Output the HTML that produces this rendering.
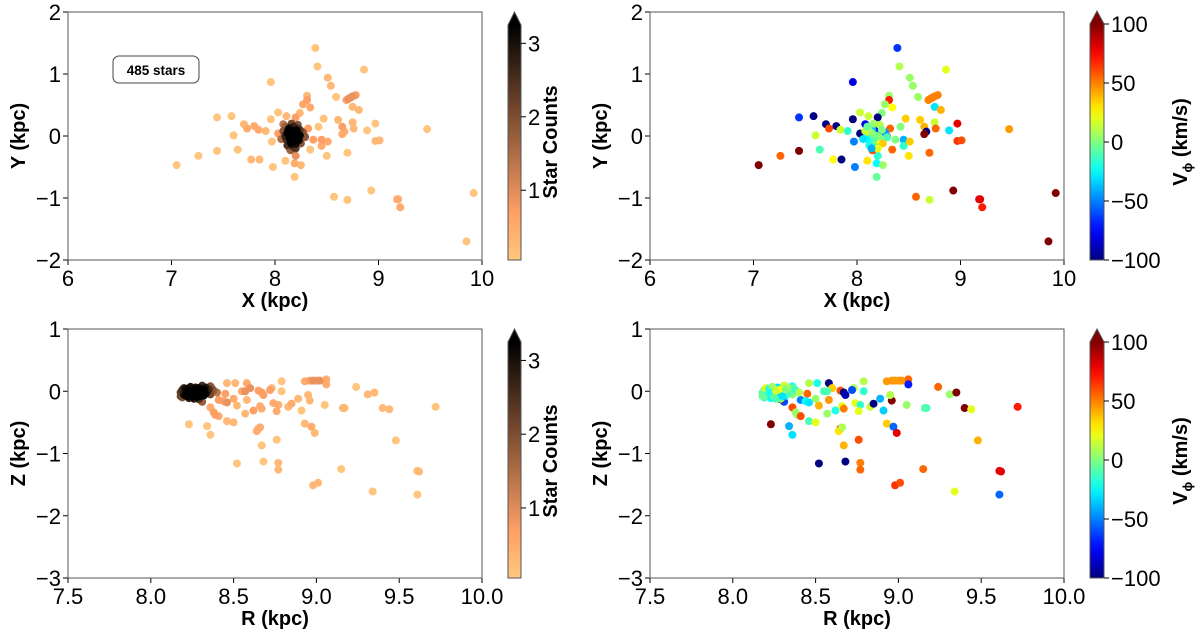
<!DOCTYPE html>
<html><head><meta charset="utf-8">
<style>
html,body{margin:0;padding:0;background:#fff;}
svg{display:block;font-family:"Liberation Sans",sans-serif;}
.tick{font-size:22px;fill:#000;}
.lab{font-size:20px;font-weight:bold;fill:#000;}
</style></head>
<body>
<svg id="fig" width="1200" height="634" viewBox="0 0 1200 634"></svg>
<script>
// ---- Top panels (X, Y, V_phi) ----
const topX = [8.39,8.41,8.51,8.54,8.86,7.96,8.59,8.69,8.71,8.73,8.75,8.78,8.31,8.31,8.27,8.34,8.75,8.81,8.24,8.03,8.11,8.20,7.96,7.44,7.58,7.70,7.80,7.73,7.84,7.91,8.08,8.03,8.47,8.42,8.61,8.65,8.75,8.76,8.67,8.65,8.97,8.89,9.47,8.97,9.01,7.60,7.64,7.44,7.26,7.05,7.77,7.85,7.98,7.97,8.10,8.19,8.25,8.19,8.20,8.15,8.34,8.37,8.45,8.45,8.50,8.51,8.70,8.29,8.32,8.93,8.57,8.70,9.18,9.19,9.21,9.92,9.85,
8.10,8.12,8.14,8.16,8.18,8.20,8.22,8.24,8.13,8.15,8.17,8.19,8.21,8.23,8.11,8.14,8.16,8.18,8.20,8.22,8.15,8.17,8.19,8.12,8.25,8.27,8.08,8.06,8.29,8.16,8.18,8.20,8.14,8.22,8.10,8.24];
const topY = [1.42,1.12,0.94,0.81,1.07,0.87,0.63,0.58,0.60,0.62,0.64,0.66,0.65,0.58,0.51,0.46,0.47,0.42,0.37,0.38,0.32,0.30,0.27,0.30,0.32,0.19,0.16,0.12,0.10,0.08,0.19,0.04,0.28,0.15,0.26,0.15,0.22,0.12,0.07,0.03,0.20,0.09,0.11,-0.08,-0.07,0.01,-0.22,-0.24,-0.32,-0.47,-0.38,-0.38,-0.50,-0.09,-0.40,-0.44,-0.47,-0.66,-0.32,-0.23,-0.22,-0.06,-0.06,-0.16,-0.32,-0.09,-0.27,-0.01,0.12,-0.88,-0.98,-1.03,-1.02,-1.02,-1.15,-0.92,-1.70,
0.00,0.05,-0.03,0.02,-0.01,0.04,-0.05,0.01,0.10,-0.10,0.08,-0.08,0.09,-0.07,-0.06,0.13,-0.13,0.15,-0.12,0.12,0.03,-0.04,0.00,-0.15,-0.12,0.06,0.08,-0.05,-0.02,0.20,-0.18,-0.20,-0.20,0.18,0.15,0.10];
const topV = [-65,10,5,5,20,-80,5,50,50,50,50,50,5,70,5,25,-30,40,0,15,15,-100,-100,-65,-100,-100,-100,60,15,-15,-80,-100,35,0,35,40,15,55,-100,100,80,-30,45,65,60,15,-10,100,55,100,25,-100,-50,-50,30,-25,5,-5,-15,60,55,0,-40,-15,30,35,55,100,55,100,55,15,80,80,70,100,100,
-20,10,-40,0,-10,30,-60,5,-30,15,-15,20,-50,0,-25,10,-5,-35,25,-70,5,-10,0,-20,35,-45,15,-30,-10,5,-15,20,-40,10,-5,0];

// ---- Bottom panels (R, Z, V_phi) ----
const botR = [8.58,8.46,8.51,8.60,8.55,8.57,8.65,8.67,8.68,8.73,8.72,8.79,8.79,8.93,8.96,8.98,9.00,9.02,9.06,9.06,9.24,9.31,9.35,9.40,9.44,9.72,8.45,8.41,8.44,8.46,8.50,8.52,8.58,8.62,8.57,8.66,8.67,8.74,8.77,8.76,8.83,8.85,8.89,8.91,8.96,8.95,9.05,9.16,9.17,8.36,8.38,8.39,8.41,8.46,8.50,8.23,8.34,8.36,8.65,8.64,8.66,8.67,8.76,8.93,8.97,8.99,9.48,8.52,8.68,8.77,8.77,9.15,8.98,9.01,9.34,9.61,9.62,9.61,8.31,8.29,8.36,
8.18,8.19,8.20,8.21,8.22,8.23,8.24,8.25,8.26,8.27,8.28,8.29,8.30,8.31,8.32,8.33,8.34,8.35,8.36,8.37,8.19,8.21,8.23,8.25,8.27,8.29,8.31,8.33,8.20,8.22,8.24,8.26,8.28,8.30,8.32,8.38,8.40,8.18,8.22,8.26];
const botZ = [0.13,0.13,0.13,0.05,0.00,0.00,0.01,-0.02,-0.06,0.05,0.02,0.16,0.00,0.16,0.17,0.17,0.17,0.17,0.19,0.11,0.07,-0.05,-0.02,-0.27,-0.29,-0.25,-0.04,-0.14,-0.16,-0.18,-0.12,-0.23,-0.14,-0.31,-0.36,-0.24,-0.28,-0.19,-0.22,-0.32,-0.25,-0.20,-0.12,-0.31,-0.15,-0.06,-0.22,-0.27,-0.27,-0.26,-0.34,-0.38,-0.40,-0.48,-0.50,-0.53,-0.56,-0.70,-0.60,-0.64,-0.58,-0.87,-0.78,-0.52,-0.57,-0.67,-0.79,-1.16,-1.13,-1.15,-1.26,-1.25,-1.51,-1.47,-1.61,-1.28,-1.29,-1.66,-0.17,-0.13,0.08,
-0.02,0.02,-0.05,0.03,-0.08,0.01,-0.04,0.04,-0.06,0.00,-0.09,0.05,-0.03,0.02,-0.07,0.06,-0.01,0.03,-0.05,0.04,-0.10,-0.07,-0.11,-0.09,0.06,-0.12,0.09,-0.04,0.05,0.04,0.07,-0.12,0.02,-0.08,0.03,0.01,-0.02,-0.08,-0.02,0.01];
const botV = [-100,10,-20,35,-10,-10,60,-100,-90,10,-60,10,-15,45,45,45,45,45,55,-70,55,5,100,100,20,70,55,-50,-25,-30,5,40,45,-20,5,20,50,20,-15,20,15,-100,-40,-35,100,10,5,-10,-10,60,5,5,60,-10,20,100,-40,-30,70,30,10,40,60,35,-55,80,40,-100,-100,50,55,55,65,60,20,80,80,-55,-60,100,-20,
-10,0,-20,10,-30,5,-15,20,-25,0,-40,10,-10,30,-20,5,-35,15,0,-5,-15,10,-25,5,-30,0,15,-10,20,-20,5,-10,25,-30,0,-15,10,-5,-20,15];

const topXTicks = [6,7,8,9,10];
const topYTicks = [-2,-1,0,1,2];
const botXTicks = [7.5,8.0,8.5,9.0,9.5,10.0];
const botYTicks = [-3,-2,-1,0,1];
const countTicks = [1,2,3];
const vTicks = [-100,-50,0,50,100];

const NS = "http://www.w3.org/2000/svg";
const fig = document.getElementById('fig');
function mk(tag, attrs, parent){
  const e = document.createElementNS(NS, tag);
  for (const k in attrs) e.setAttribute(k, attrs[k]);
  (parent||fig).appendChild(e);
  return e;
}
function fmt(v, dec){ const s = dec ? Math.abs(v).toFixed(1) : String(Math.abs(v)); return (v<0?'\u2212':'')+s; }

function jet(v){
  const f = x => Math.max(0, Math.min(1, x));
  const r = f(1.5 - Math.abs(4*v - 3)), g = f(1.5 - Math.abs(4*v - 2)), b = f(1.5 - Math.abs(4*v - 1));
  return `rgb(${Math.round(r*255)},${Math.round(g*255)},${Math.round(b*255)})`;
}
function copperR(t){
  const x = 1 - Math.max(0, Math.min(1, t));
  const r = Math.min(1, 1.25*x), g = 0.7812*x, b = 0.4975*x;
  return `rgb(${Math.round(r*255)},${Math.round(g*255)},${Math.round(b*255)})`;
}

function makeAxes(o){
  const sx = v => o.x0 + (v - o.xmin)/(o.xmax - o.xmin)*(o.x1 - o.x0);
  const sy = v => o.y1 - (v - o.ymin)/(o.ymax - o.ymin)*(o.y1 - o.y0);
  const g = mk('g', {});
  
  
  o.xt.forEach(v => {
    const x = sx(v);
    const t = mk('line', {x1:x, x2:x, y1:o.y1, y2:o.y1+5, stroke:'#000', 'stroke-width':1}, g);
    
    
    const l = mk('text', {x:x, y:o.y1+26, 'text-anchor':'middle', class:'tick'}, g);
    l.textContent = fmt(v, o.xdec);
    
    
  });
  o.yt.forEach(v => {
    const y = sy(v);
    const t = mk('line', {x1:o.x0-5, x2:o.x0, y1:y, y2:y, stroke:'#000', 'stroke-width':1}, g);
    
    
    const l = mk('text', {x:o.x0-7, y:y+8, 'text-anchor':'end', class:'tick'}, g);
    l.textContent = fmt(v, false);
    
    
  });
  const xl = mk('text', {x:(o.x0+o.x1)/2, y:o.y1+47, 'text-anchor':'middle', class:'lab'}, g);
  xl.textContent = o.xlab;
  
  
  const yl = mk('text', {x:0, y:0, 'text-anchor':'middle', class:'lab', transform:`translate(${o.x0-43},${(o.y0+o.y1)/2}) rotate(-90)`}, g);
  yl.textContent = o.ylab;
  
  
  return {sx, sy, g};
}
function frame(o, g){
  const f = mk('rect', {x:o.x0, y:o.y0, width:o.x1-o.x0, height:o.y1-o.y0, fill:'none', stroke:'#555', 'stroke-width':1}, g);
  
  
}
function densityCounts(xs, ys, sx, sy){
  const px = xs.map(sx), py = ys.map(sy);
  return px.map((x,i) => {
    let n = 0;
    for (let j=0;j<px.length;j++){ if (j!==i && Math.hypot(px[j]-x, py[j]-py[i]) < 9) n++; }
    return Math.min(3.3, 0.1 + 0.2*n);
  });
}
function scatter(xs, ys, colors, sx, sy, g, order){
  order.forEach(i => {
    const c = mk('circle', {cx:sx(xs[i]), cy:sy(ys[i]), r:4, fill:colors[i]}, g);
    
    
  });
}
function colorbar(o){
  const g = mk('g', {});
  
  
  const id = o.name + '-grad';
  const grad = mk('linearGradient', {id:id, x1:0, y1:1, x2:0, y2:0}, g);
  for (let k=0;k<=20;k++){
    mk('stop', {offset:(k/20), 'stop-color':o.cmap(k/20)}, grad);
  }
  const r = mk('rect', {x:o.x, y:o.top, width:o.w, height:o.bot-o.top, fill:`url(#${id})`}, g);
  
  
  const tri = mk('polygon', {points:`${o.x},${o.top} ${o.x+o.w},${o.top} ${o.x+o.w/2},${o.tip}`, fill:o.cmap(1)}, g);
  
  
  mk('polygon', {points:`${o.x},${o.top} ${o.x+o.w/2},${o.tip} ${o.x+o.w},${o.top} ${o.x+o.w},${o.bot} ${o.x},${o.bot}`, fill:'none', stroke:'#555', 'stroke-width':1}, g);
  const sc = v => o.bot - (v - o.vmin)/(o.vmax - o.vmin)*(o.bot - o.top);
  o.ticks.forEach(v => {
    const y = sc(v);
    const t = mk('line', {x1:o.x+o.w, x2:o.x+o.w+5, y1:y, y2:y, stroke:'#000'}, g);
    
    
    const l = mk('text', {x:o.x+o.w+7, y:y+8, class:'tick'}, g);
    l.textContent = fmt(v, false);
    
    
  });
  return g;
}

const TL = {name:'xy-counts-panel', x0:68, x1:482, y0:12, y1:260, xmin:6, xmax:10, ymin:-2, ymax:2, xt:topXTicks, yt:topYTicks, xlab:'X (kpc)', ylab:'Y (kpc)', xdec:false};
const TR = {name:'xy-vphi-panel', x0:650, x1:1064, y0:12, y1:260, xmin:6, xmax:10, ymin:-2, ymax:2, xt:topXTicks, yt:topYTicks, xlab:'X (kpc)', ylab:'Y (kpc)', xdec:false};
const BL = {name:'rz-counts-panel', x0:68, x1:482, y0:329, y1:578, xmin:7.5, xmax:10, ymin:-3, ymax:1, xt:botXTicks, yt:botYTicks, xlab:'R (kpc)', ylab:'Z (kpc)', xdec:true};
const BR = {name:'rz-vphi-panel', x0:650, x1:1064, y0:329, y1:578, xmin:7.5, xmax:10, ymin:-3, ymax:1, xt:botXTicks, yt:botYTicks, xlab:'R (kpc)', ylab:'Z (kpc)', xdec:true};
const CMIN = 0.05, CMAX = 3.25;

{
  const a = makeAxes(TL);
  const cnt = densityCounts(topX, topY, a.sx, a.sy);
  const cols = cnt.map(c => copperR((c - CMIN)/(CMAX - CMIN)));
  const order = cnt.map((c,i)=>i).sort((i,j)=>cnt[i]-cnt[j]);
  scatter(topX, topY, cols, a.sx, a.sy, a.g, order);
  frame(TL, a.g);
  const box = mk('rect', {x:113, y:56, width:86, height:27, rx:6, fill:'#fff', stroke:'#444', 'stroke-width':1}, a.g);
  
  
  const bt = mk('text', {x:156, y:75, 'text-anchor':'middle', 'font-size':'13.5', 'font-weight':'bold'}, a.g);
  bt.textContent = '485 stars';
  
  
}
{
  const a = makeAxes(TR);
  const cols = topV.map(v => jet((v + 100)/200));
  scatter(topX, topY, cols, a.sx, a.sy, a.g, topV.map((v,i)=>i));
  frame(TR, a.g);
}
{
  const a = makeAxes(BL);
  const cnt = densityCounts(botR, botZ, a.sx, a.sy);
  const cols = cnt.map(c => copperR((c - CMIN)/(CMAX - CMIN)));
  const order = cnt.map((c,i)=>i).sort((i,j)=>cnt[i]-cnt[j]);
  scatter(botR, botZ, cols, a.sx, a.sy, a.g, order);
  frame(BL, a.g);
}
{
  const a = makeAxes(BR);
  const cols = botV.map(v => jet((v + 100)/200));
  scatter(botR, botZ, cols, a.sx, a.sy, a.g, botV.map((v,i)=>i));
  frame(BR, a.g);
}

colorbar({name:'counts-colorbar-top', x:508, w:13, tip:12, top:25, bot:260, vmin:CMIN, vmax:CMAX, ticks:countTicks, cmap:copperR});
colorbar({name:'vphi-colorbar-top', x:1090, w:14, tip:11, top:24, bot:260, vmin:-100, vmax:100, ticks:vTicks, cmap:jet});
colorbar({name:'counts-colorbar-bottom', x:508, w:13, tip:329, top:342, bot:578, vmin:CMIN, vmax:CMAX, ticks:countTicks, cmap:copperR});
colorbar({name:'vphi-colorbar-bottom', x:1090, w:14, tip:329, top:342, bot:578, vmin:-100, vmax:100, ticks:vTicks, cmap:jet});

[[557,142],[557,461]].forEach(p => {
  const t = mk('text', {x:0, y:0, 'text-anchor':'middle', class:'lab', transform:`translate(${p[0]},${p[1]}) rotate(-90)`});
  t.textContent = 'Star Counts';
  
  
});
[[1187,142],[1187,461]].forEach(p => {
  const t = mk('text', {x:0, y:0, 'text-anchor':'middle', class:'lab', transform:`translate(${p[0]},${p[1]}) rotate(-90)`});
  
  
  const a = mk('tspan', {}, t); a.textContent = 'V';
  const b = mk('tspan', {'font-size':'13', dy:'5'}, t); b.textContent = '\u03d5';
  const c = mk('tspan', {dy:'-5'}, t); c.textContent = '  (km/s)';
});
</script>
</body></html>
